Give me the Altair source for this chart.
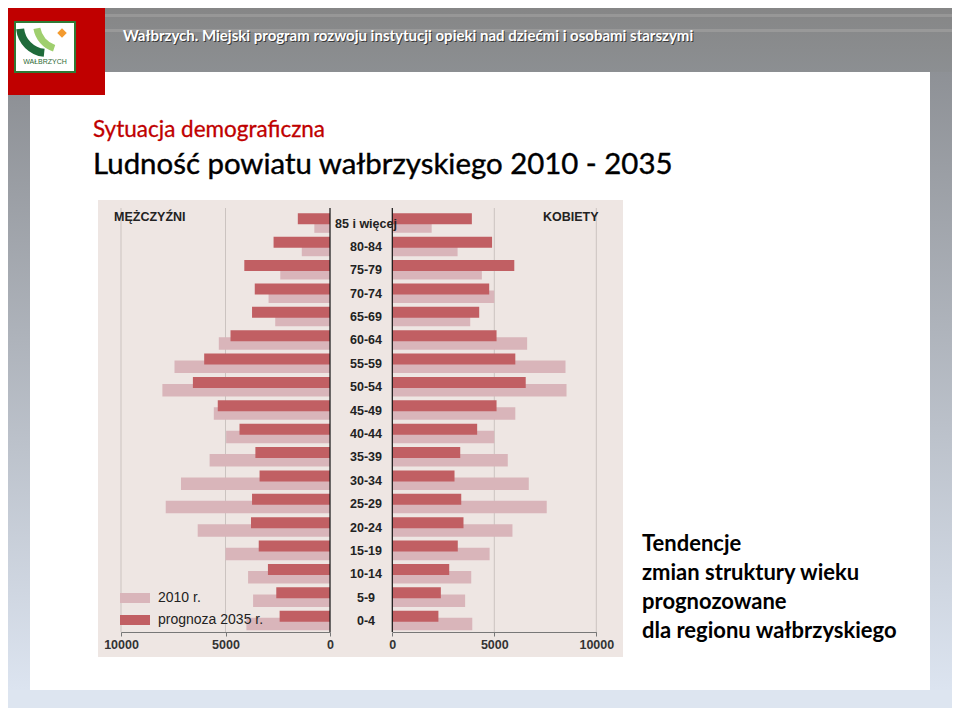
import altair as alt
import pandas as pd
import math

# ---------------- data ----------------
ages = ["85 i więcej", "80-84", "75-79", "70-74", "65-69", "60-64", "55-59",
        "50-54", "45-49", "40-44", "35-39", "30-34", "25-29", "20-24",
        "15-19", "10-14", "5-9", "0-4"]
men_2010 = [750, 1350, 2380, 2940, 2620, 5320, 7440, 8020, 5560, 4970,
            5760, 7130, 7860, 6330, 5000, 3920, 3680, 4000]
men_2035 = [1540, 2700, 4100, 3600, 3730, 4760, 6020, 6560, 5370, 4330,
            3570, 3370, 3730, 3780, 3410, 2970, 2570, 2410]
women_2010 = [1930, 3200, 4390, 5000, 3820, 6610, 8490, 8540, 6030, 5000,
              5660, 6690, 7570, 5890, 4770, 3870, 3570, 3920]
women_2035 = [3900, 4890, 5980, 4750, 4260, 5110, 6030, 6540, 5110, 4160,
              3330, 3050, 3380, 3490, 3210, 2790, 2380, 2260]
series = ["2010 r.", "prognoza 2035 r."]
axis_ticks = [0, 5000, 10000]
grid_values = [5000, 10000]

header_text = "Wałbrzych. Miejski program rozwoju instytucji opieki nad dziećmi  i osobami starszymi"
subtitle = "Sytuacja demograficzna"
title = "Ludność powiatu wałbrzyskiego 2010 - 2035"
side_lines = ["Tendencje", "zmian struktury wieku", "prognozowane", "dla regionu wałbrzyskiego"]

df = pd.DataFrame({
    "age": ages, "m2010": men_2010, "m2035": men_2035,
    "w2010": women_2010, "w2035": women_2035,
    "s2010": series[0], "s2035": series[1],
})
grid_df = pd.DataFrame({"v": grid_values})
zero_df = pd.DataFrame({"v": [0]})
one = pd.DataFrame({"a": [0]})

W, H = 944, 700
M = 8  # page margin -> convert page coordinates to view coordinates


def P(v):
    return v - M


LIGHT = "#d9b5ba"
DARK = "#c15f63"
BG = "#eee6e3"


def rect(x1, y1, x2, y2, **kw):
    return alt.Chart(one).mark_rect(**kw).encode(
        x=alt.value(P(x1)), x2=alt.value(P(x2)), y=alt.value(P(y1)), y2=alt.value(P(y2)))


def text(x, y, txt, **kw):
    return alt.Chart(one).mark_text(**kw).encode(
        x=alt.value(P(x)), y=alt.value(P(y)), text=alt.value(txt))


def vgrad(c1, c2):
    return {"gradient": "linear", "x1": 0, "x2": 0, "y1": 0, "y2": 1,
            "stops": [{"offset": 0, "color": c1}, {"offset": 1, "color": c2}]}


# ---------------- slide decoration ----------------
deco = [
    rect(105, 0, 956, 72, fill=vgrad("#858585", "#8c8f92")),
    rect(105, 14, 956, 17, fill="#979797"),
    rect(105, 29, 956, 32, fill="#999999"),
    rect(5, 95, 30, 690, fill=vgrad("#8e9196", "#dce4f0")),
    rect(930, 72, 956, 690, fill=vgrad("#8e9196", "#dce4f0")),
    rect(5, 690, 956, 712, fill="#dde5f0"),
    rect(5, 0, 105, 95, fill="#c00000"),
    rect(15, 22, 75, 72, fill="white", stroke="#2f7a35", strokeWidth=2),
    alt.Chart(one).mark_arc(radius=31, radius2=23, theta=math.radians(186),
                            theta2=math.radians(264), fill="#1f6b3a").encode(
        x=alt.value(P(47)), y=alt.value(P(26))),
    alt.Chart(one).mark_arc(radius=29, radius2=22, theta=math.radians(198),
                            theta2=math.radians(260), fill="#9fcf6e").encode(
        x=alt.value(P(62)), y=alt.value(P(24))),
    alt.Chart(one).mark_point(shape="diamond", size=90, filled=True, fill="#f39a2e",
                              opacity=1).encode(x=alt.value(P(62)), y=alt.value(P(33))),
    text(45, 62, "WAŁBRZYCH", font="Liberation Sans", fontSize=7, color="#2f6b35",
         align="center", baseline="middle"),
    text(124, 37, header_text, font="Lato", fontWeight="bold", fontSize=15,
         color="#3a3a3a", align="left", baseline="middle"),
    text(123, 36, header_text, font="Lato", fontWeight="bold", fontSize=15,
         color="white", align="left", baseline="middle"),
    text(93, 137, subtitle, font="Lato", fontSize=22.5, color="#c00000",
         align="left", baseline="alphabetic", stroke="#c00000", strokeWidth=0.3),
    text(93, 174, title, font="Lato", fontSize=29.4, color="black",
         align="left", baseline="alphabetic", stroke="black", strokeWidth=0.4),
    alt.Chart(one).mark_text(font="Lato", fontWeight="bold", fontSize=22, color="black",
                             align="left", baseline="alphabetic", lineHeight=29).encode(
        x=alt.value(P(642)), y=alt.value(P(551)), text=alt.value(side_lines)),
    rect(98, 200, 623, 657, fill=BG),
]

# ---------------- pyramid ----------------
male_scale = alt.Scale(domain=[0, 10000], range=[P(330), P(121)])
female_scale = alt.Scale(domain=[0, 10000], range=[P(392.3), P(596.3)])
y_scale = alt.Scale(type="band", domain=ages, range=[P(211.3), P(632.1)],
                    paddingInner=0, paddingOuter=0)
color_scale = alt.Scale(domain=series, range=[LIGHT, DARK])
legend = alt.Legend(orient="none", legendX=P(120), legendY=P(583), title=None,
                    symbolType="M-1,-0.3333H1V0.3333H-1Z", symbolSize=900,
                    symbolStrokeWidth=0, symbolOpacity=1, labelFont="Liberation Sans",
                    labelFontSize=14, labelColor="#222222", labelOffset=8,
                    rowPadding=-10, padding=0, direction="vertical", zindex=1)


def xaxis():
    return alt.Axis(orient="bottom", offset=-(H - P(632)), values=axis_ticks, format="d",
                    title=None, grid=False, domainColor="#777777", tickColor="#777777",
                    tickSize=4, labelFont="Liberation Sans", labelFontWeight="bold",
                    labelFontSize=12.5, labelColor="#333333", labelPadding=2,
                    labelFlush=False, labelOverlap=False, zindex=2)


ykw = dict(scale=y_scale, axis=None)
base = alt.Chart(df)

grid_top, grid_bot = P(208), P(632)
layers = []
for sc in (male_scale, female_scale):
    layers.append(alt.Chart(grid_df).mark_rule(color="#cbc3c0", strokeWidth=1).encode(
        x=alt.X("v:Q", scale=sc, axis=None), y=alt.value(grid_top), y2=alt.value(grid_bot)))

for fld_l, fld_d, sc in (("m2010", "m2035", male_scale), ("w2010", "w2035", female_scale)):
    layers.append(base.mark_bar(height=12.5, yOffset=3.6).encode(
        x=alt.X(f"{fld_l}:Q", scale=sc, axis=xaxis()),
        y=alt.Y("age:N", **ykw),
        color=alt.Color("s2010:N", scale=color_scale, legend=legend)))
    layers.append(base.mark_bar(height=11, yOffset=-4.2).encode(
        x=alt.X(f"{fld_d}:Q", scale=sc, axis=None),
        y=alt.Y("age:N", **ykw),
        color=alt.Color("s2035:N", scale=color_scale, legend=legend)))

for sc in (male_scale, female_scale):
    layers.append(alt.Chart(zero_df).mark_rule(color="#111111", strokeWidth=1.2).encode(
        x=alt.X("v:Q", scale=sc, axis=None), y=alt.value(grid_top), y2=alt.value(grid_bot)))

layers.append(base.mark_text(font="Liberation Sans", fontWeight="bold", fontSize=12.5,
                             color="#222222", align="center", baseline="middle", dy=0.6).encode(
    x=alt.value(P(366)), y=alt.Y("age:N", **ykw), text="age:N"))

labels = [
    text(114, 217, "MĘŻCZYŹNI", font="Liberation Sans", fontWeight="bold", fontSize=12.5,
         color="#222222", align="left", baseline="middle"),
    text(543, 217, "KOBIETY", font="Liberation Sans", fontWeight="bold", fontSize=12.5,
         color="#222222", align="left", baseline="middle"),
]

chart = alt.layer(*deco, *layers, *labels).resolve_scale(x="independent").properties(
    width=W, height=H, autosize=alt.AutoSizeParams(type="none"), padding=0
).configure_view(strokeWidth=0)

chart.save("out.html", embed_options={"renderer": "svg", "actions": False})
